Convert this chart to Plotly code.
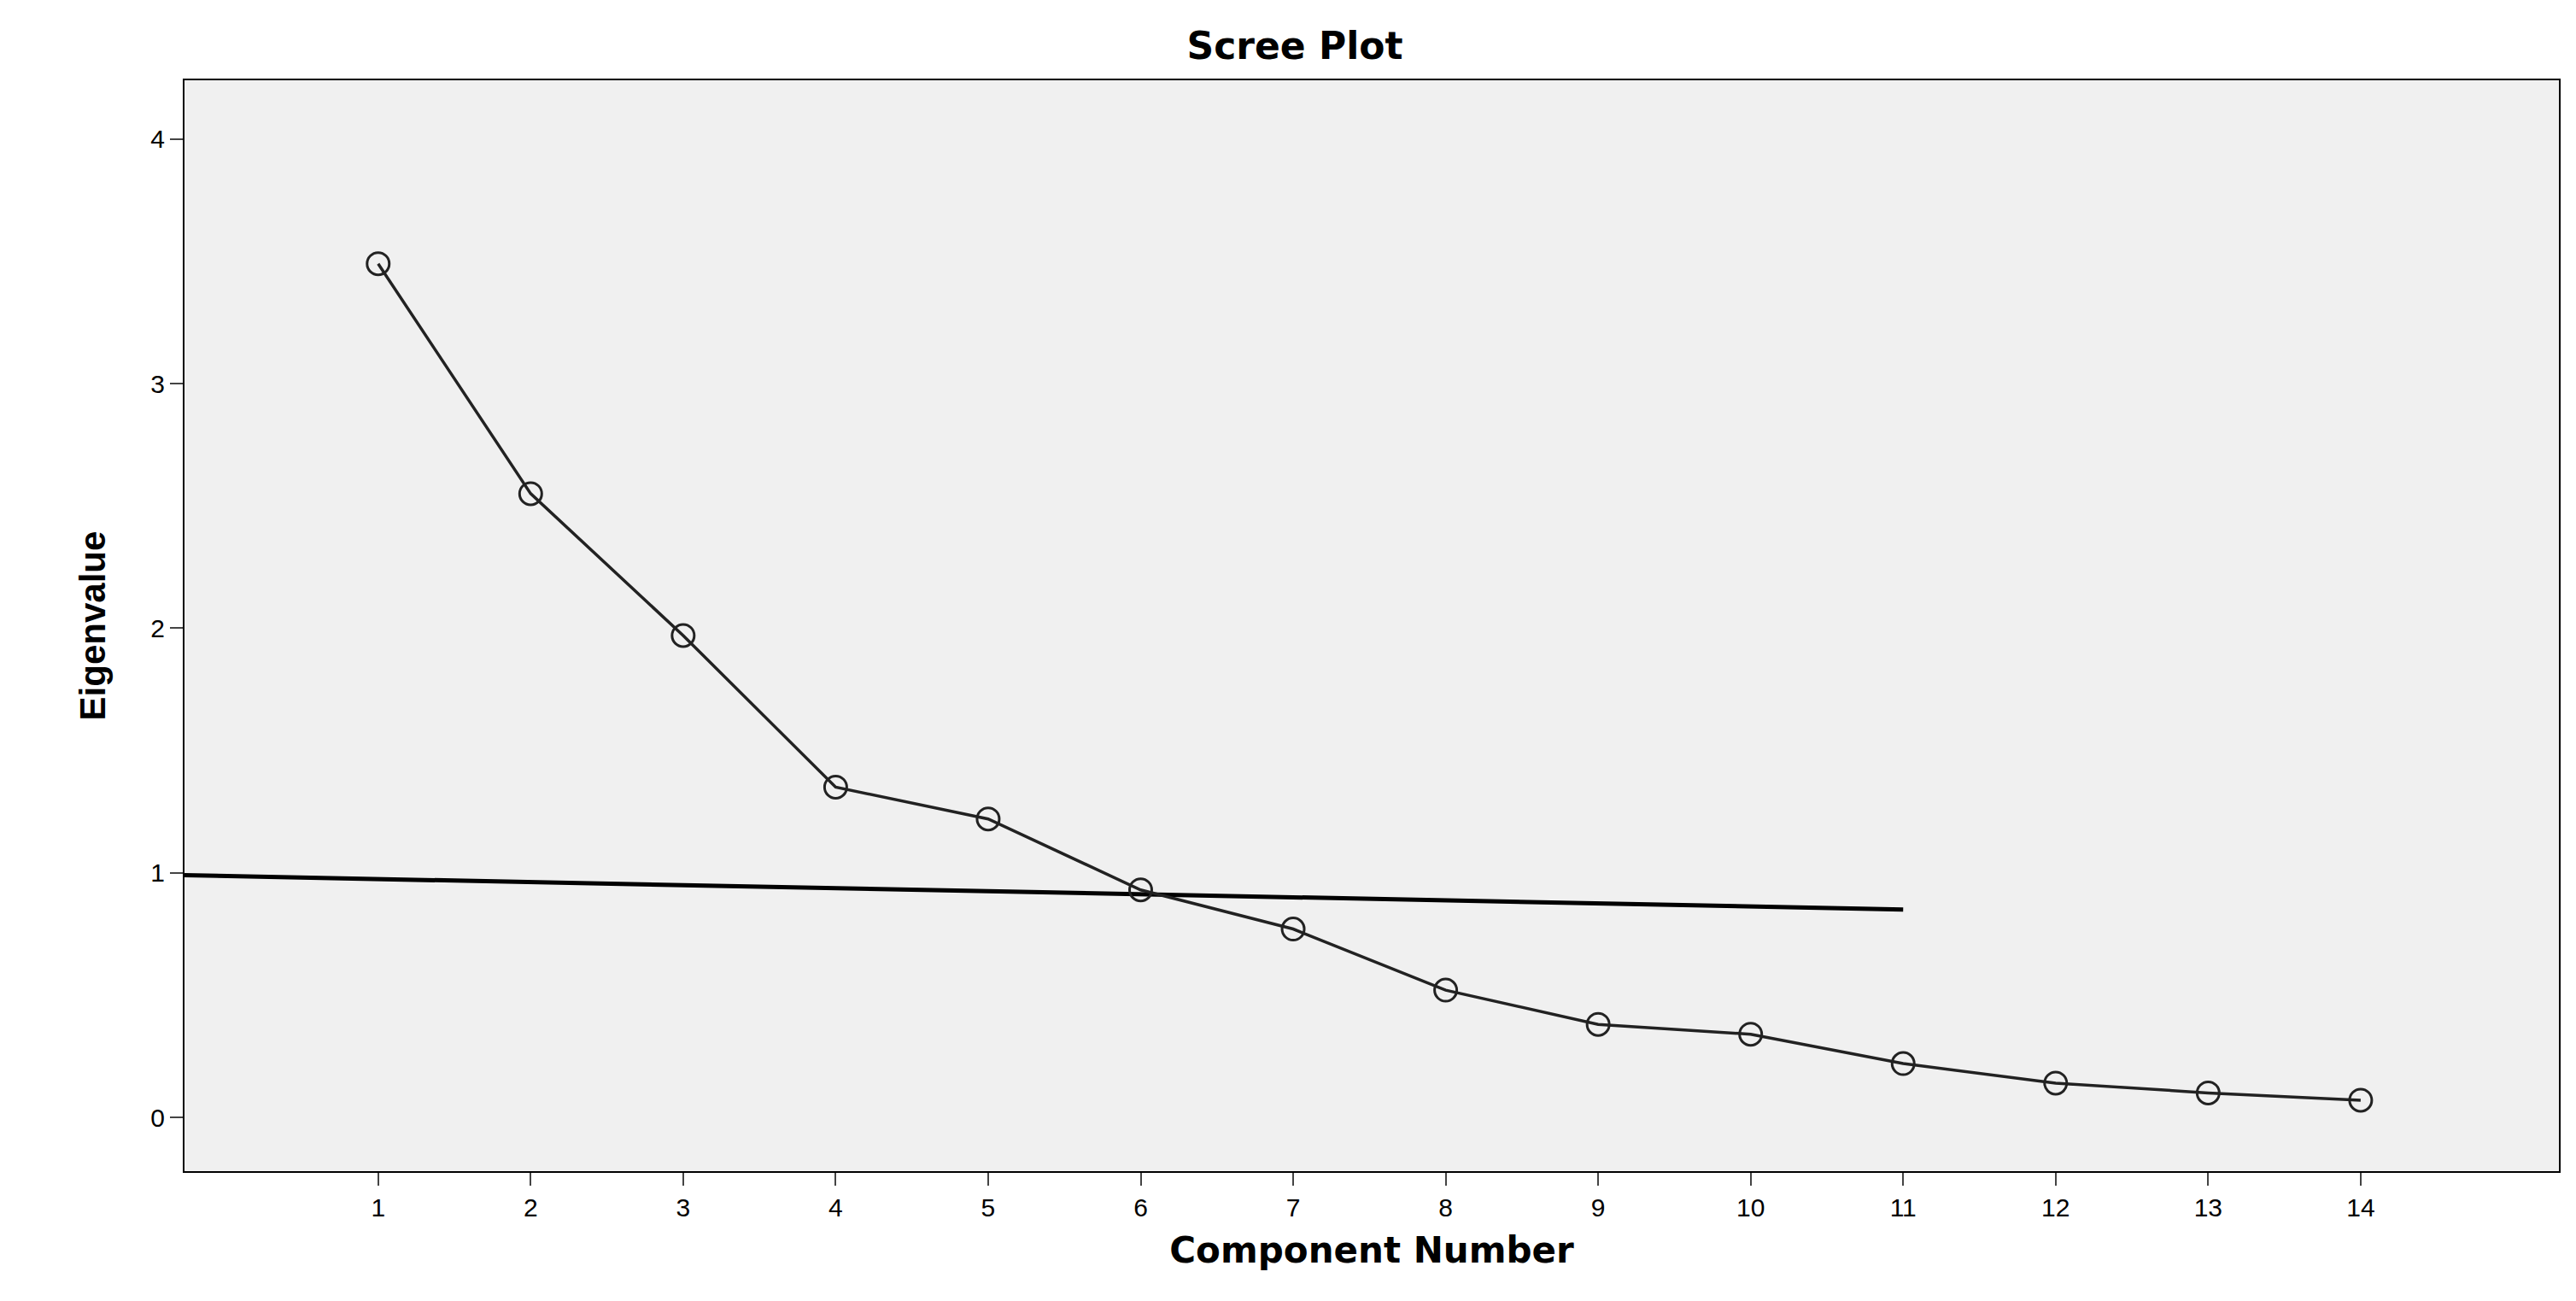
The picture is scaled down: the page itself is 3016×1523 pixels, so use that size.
import plotly.graph_objects as go

components = list(range(1, 15))
eigenvalues = [3.49, 2.55, 1.97, 1.35, 1.22, 0.93, 0.77, 0.52, 0.38, 0.34, 0.22, 0.14, 0.10, 0.07]

# the hand-drawn cutoff line
cut_x = [-0.27, 11]
cut_y = [0.99, 0.85]

fig = go.Figure()

fig.add_trace(go.Scatter(
    x=cut_x, y=cut_y, mode="lines",
    line=dict(color="black", width=5),
    hoverinfo="skip", showlegend=False,
))

fig.add_trace(go.Scatter(
    x=components, y=eigenvalues, mode="lines+markers",
    line=dict(color="#222", width=3.5),
    marker=dict(symbol="circle-open", size=26, color="#222", line=dict(width=3)),
    showlegend=False,
))

fig.update_layout(
    width=3016, height=1523,
    paper_bgcolor="white", plot_bgcolor="#f0f0f0",
    font=dict(family="DejaVu Sans, Arial, sans-serif", color="black"),
    title=dict(text="<b>Scree Plot</b>", x=0.5, xanchor="center", y=0.98, yanchor="top",
               font=dict(size=44)),
    margin=dict(l=208, r=28, t=86, b=160),
    xaxis=dict(
        range=[-0.27, 15.3], tickvals=components, showgrid=False, zeroline=False,
        showline=True, mirror=True, linecolor="black", linewidth=2,
        ticks="outside", ticklen=15, tickwidth=2,
        tickfont=dict(size=30, family="Liberation Sans, Arial, sans-serif"),
        title=dict(text="<b>Component Number</b>", font=dict(size=42), standoff=20),
    ),
    yaxis=dict(
        range=[-0.22, 4.24], tickvals=[0, 1, 2, 3, 4], showgrid=False, zeroline=False,
        showline=True, mirror=True, linecolor="black", linewidth=2,
        ticks="outside", ticklen=15, tickwidth=2,
        tickfont=dict(size=30, family="Liberation Sans, Arial, sans-serif"),
        title=dict(text="<b>Eigenvalue</b>", font=dict(size=42, family="Liberation Sans Narrow, Liberation Sans, Arial"), standoff=40),
    ),
)

fig.write_html("out.html")
